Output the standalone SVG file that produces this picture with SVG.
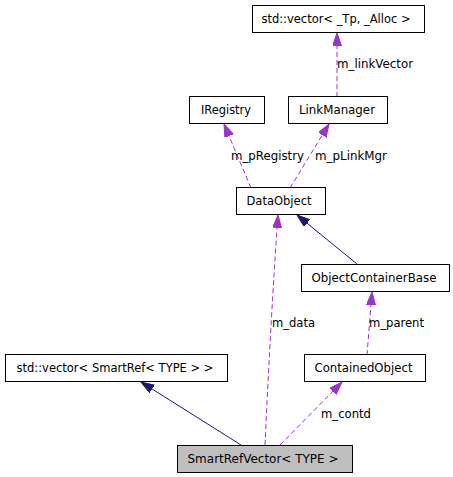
<svg xmlns="http://www.w3.org/2000/svg" width="453" height="477" viewBox="0 0 453 477">
<style>
.box{fill:#ffffff;stroke:#000000;stroke-width:1}
.cur{fill:#bfbfbf;stroke:#000000;stroke-width:1}
text{font-family:"DejaVu Sans","Liberation Sans",sans-serif;font-size:12px;fill:#000000}
.nt{text-anchor:middle}
.use{fill:none;stroke:#9a32cd;stroke-width:1;stroke-dasharray:5,3}
.inh{fill:none;stroke:#191970;stroke-width:1}
</style>
<defs>
<marker id="ap" markerUnits="userSpaceOnUse" markerWidth="14" markerHeight="10" refX="13" refY="4.5" orient="auto"><path d="M0,0 L13,4.5 L0,9 z" fill="#9a32cd" stroke="#9a32cd"/></marker>
<marker id="an" markerUnits="userSpaceOnUse" markerWidth="14" markerHeight="10" refX="13" refY="4.5" orient="auto"><path d="M0,0 L13,4.5 L0,9 z" fill="#191970" stroke="#191970"/></marker>
</defs>
<rect width="453" height="477" fill="#ffffff"/>
<g id="connectors">
<path class="use" d="M337,97 L337,33" marker-end="url(#ap)"/>
<text x="337" y="68" textLength="76" lengthAdjust="spacingAndGlyphs">m_linkVector</text>
<path class="use" d="M251,188 L224,124" marker-end="url(#ap)"/>
<text x="231" y="160" textLength="73" lengthAdjust="spacingAndGlyphs">m_pRegistry</text>
<path class="use" d="M290,188 L329,124" marker-end="url(#ap)"/>
<text x="315" y="160" textLength="72" lengthAdjust="spacingAndGlyphs">m_pLinkMgr</text>
<path class="inh" d="M357,264 L297,215" marker-end="url(#an)"/>
<path class="use" d="M265,445 C268,380 272,300 278,215" marker-end="url(#ap)"/>
<text x="272" y="327" textLength="43" lengthAdjust="spacingAndGlyphs">m_data</text>
<path class="use" d="M367,355 L372,292" marker-end="url(#ap)"/>
<text x="369" y="327" textLength="55" lengthAdjust="spacingAndGlyphs">m_parent</text>
<path class="use" d="M280,445 L342,382" marker-end="url(#ap)"/>
<text x="321" y="418" textLength="50" lengthAdjust="spacingAndGlyphs">m_contd</text>
<path class="inh" d="M241,445 L141,382" marker-end="url(#an)"/>
</g>
<g id="node_vector_tp">
<rect class="box" x="252.5" y="5.5" width="172" height="27"/>
<text class="nt" x="336" y="23" textLength="149" lengthAdjust="spacingAndGlyphs">std::vector&lt; _Tp, _Alloc &gt;</text>
</g>
<g id="node_iregistry">
<rect class="box" x="189.5" y="96.5" width="75" height="27"/>
<text class="nt" x="226" y="114" textLength="50" lengthAdjust="spacingAndGlyphs">IRegistry</text>
</g>
<g id="node_linkmanager">
<rect class="box" x="288.5" y="96.5" width="99" height="27"/>
<text class="nt" x="337" y="114" textLength="76" lengthAdjust="spacingAndGlyphs">LinkManager</text>
</g>
<g id="node_dataobject">
<rect class="box" x="236.5" y="187.5" width="89" height="27"/>
<text class="nt" x="279" y="205" textLength="65" lengthAdjust="spacingAndGlyphs">DataObject</text>
</g>
<g id="node_objectcontainerbase">
<rect class="box" x="301.5" y="264.5" width="148" height="27"/>
<text class="nt" x="374" y="282" textLength="125" lengthAdjust="spacingAndGlyphs">ObjectContainerBase</text>
</g>
<g id="node_vector_smartref">
<rect class="box" x="5.5" y="354.5" width="222" height="27"/>
<text class="nt" x="115" y="372" textLength="197" lengthAdjust="spacingAndGlyphs">std::vector&lt; SmartRef&lt; TYPE &gt; &gt;</text>
</g>
<g id="node_containedobject">
<rect class="box" x="304.5" y="354.5" width="121" height="27"/>
<text class="nt" x="363.5" y="372" textLength="98" lengthAdjust="spacingAndGlyphs">ContainedObject</text>
</g>
<g id="node_smartrefvector">
<rect class="cur" x="177.5" y="445.5" width="175" height="27"/>
<text class="nt" x="263" y="463" textLength="151" lengthAdjust="spacingAndGlyphs">SmartRefVector&lt; TYPE &gt;</text>
</g>
</svg>
